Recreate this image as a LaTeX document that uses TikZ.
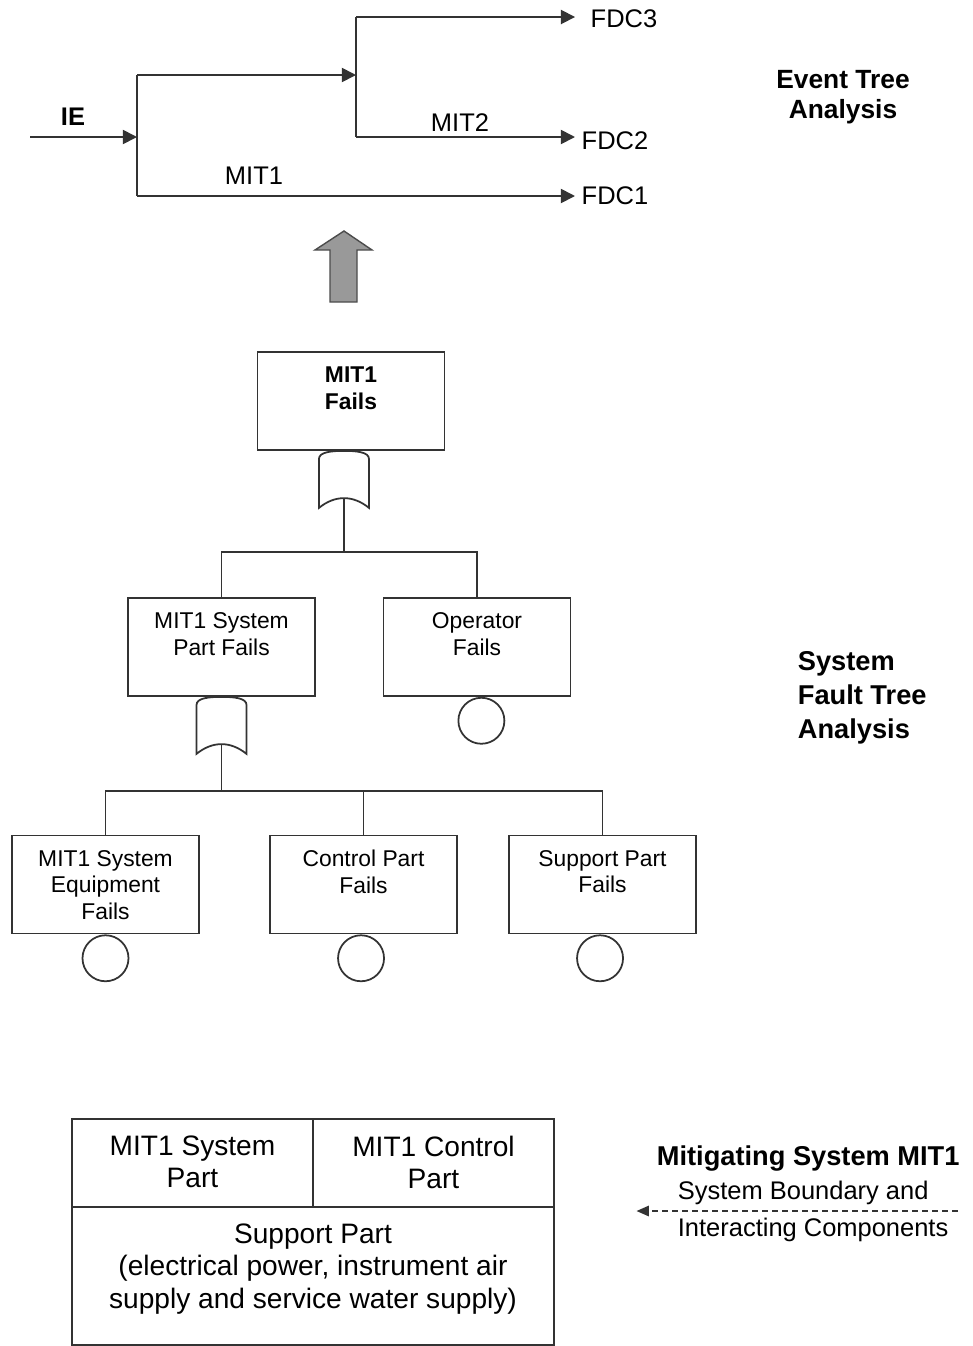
\documentclass[tikz,border=0pt]{standalone}
\usepackage{fontspec}
\setmainfont{Liberation Sans}
\usetikzlibrary{arrows.meta}
\begin{document}
\begin{tikzpicture}[x=0.02cm,y=-0.02cm,line width=1pt,
 ftbox/.style={draw=black!80,minimum width=187*\px,minimum height=98*\px},
 fttext/.style={anchor=north,yshift=-8.3pt,align=center,inner sep=0,font=\fontsize{13}{15.3}\selectfont},
 cell/.style={draw=black!80,minimum height=88*\px},
 celltext/.style={anchor=north,yshift=-9.6pt,align=center,inner sep=0,font=\fontsize{16}{18.4}\selectfont},
 basic/.style={circle,draw=black!80,minimum size=46*\px,inner sep=0,anchor=north},
 etline/.style={draw=black!80},
 etarrow/.style={etline,-{Triangle[length=8pt,width=8pt]}},
 etlabel/.style={font=\fontsize{14.5}{16}\selectfont},
 title/.style={font=\bfseries\fontsize{15}{17}\selectfont,align=center,inner sep=0},
 bndarrow/.style={draw=black!80,line width=0.7pt,dash pattern=on 3.4pt off 2.3pt,-{Triangle[length=7pt,width=6pt]}},
 orgate/.pic={\draw[black!80] (-25,57) -- (-25,8) .. controls (-25,1) and (-12,0) .. (0,0) .. controls (12,0) and (25,1) .. (25,8) -- (25,57) .. controls (9,44) and (-9,44) .. cycle;
  \coordinate (-out) at (0,47);}]
\def\px{0.02cm}
\def\ya{401}
\def\yb{647}
\def\yc{884.5}
\useasboundingbox (0,0) rectangle (973,1346);

\coordinate (ie) at (30,137);
\coordinate (b1) at (137,137);
\coordinate (b1u) at (137,75);
\coordinate (b1d) at (137,196);
\coordinate (b2) at (356,75);
\coordinate (b2u) at (356,17);
\coordinate (b2d) at (356,137);
\node[etlabel,font=\bfseries\fontsize{14.5}{16}\selectfont] (IE) at (73,117) {IE};
\node[etlabel] (MITa) at (254,176) {MIT1};
\node[etlabel] (MITb) at (460,123) {MIT2};
\node[etlabel,anchor=west] (FDC3) at (584,19) {FDC3};
\node[etlabel,anchor=west] (FDC2) at (575,141) {FDC2};
\node[etlabel,anchor=west] (FDC1) at (575,196) {FDC1};
\draw[etarrow] (ie) -- (b1);
\draw[etline] (b1u) -- (b1d);
\draw[etarrow] (b1u) -- (b2);
\draw[etline] (b2u) -- (b2d);
\draw[etarrow,shorten >=5.1pt] (b2u) -- (b2u -| FDC3.west);
\draw[etarrow] (b2d) -- (b2d -| FDC2.west);
\draw[etarrow] (b1d) -- (b1d -| FDC1.west);
\node[title] (ETA) at (843,97) {Event Tree\\Analysis};

\filldraw[fill=black!40,draw=black!70,line width=0.8pt] (330,302) -- (330,250) -- (315,250) -- (344,231) -- (372,250) -- (357,250) -- (357,302) -- cycle;

\node[ftbox] (Top) at (351,\ya) {};
\node[fttext,font=\bfseries\fontsize{13}{15.3}\selectfont] (Topt) at (Top.north) {MIT1\\Fails};
\pic (g1) at ([xshift=-4pt]Top.south) {orgate};

\node[ftbox] (SysPart) at (221.5,\yb) {};
\node[fttext] (SysPartt) at (SysPart.north) {MIT1 System\\Part Fails};
\node[ftbox] (Oper) at (477,\yb) {};
\node[fttext] (Opert) at (Oper.north) {Operator\\Fails};
\node[basic] (OperE) at ([xshift=2.5pt]Oper.south) {};
\draw[etline] (g1-out) -- ++(0,54) coordinate (j1);
\draw[etline] (SysPart.north) |- (j1) -| (Oper.north);
\pic (g2) at (SysPart.south) {orgate};

\node[ftbox] (Equip) at (105.5,\yc) {};
\node[fttext] (Equipt) at (Equip.north) {MIT1 System\\Equipment\\Fails};
\node[basic] (EquipE) at (Equip.south) {};
\node[ftbox] (Ctrl) at (363.5,\yc) {};
\node[fttext] (Ctrlt) at (Ctrl.north) {Control Part\\Fails};
\node[basic] (CtrlE) at ([xshift=-1.4pt]Ctrl.south) {};
\node[ftbox] (Supp) at (602.5,\yc) {};
\node[fttext] (Suppt) at (Supp.north) {Support Part\\Fails};
\node[basic] (SuppE) at ([xshift=-1.4pt]Supp.south) {};
\draw[etline] (g2-out) -- ++(0,47) coordinate (j2);
\draw[etline] (Equip.north) |- (j2) -| (Supp.north);
\draw[etline] (Ctrl.north) -- (Ctrl.north |- j2);
\node[title,align=left,anchor=west,font=\bfseries\fontsize{15.5}{19.3}\selectfont] (FTA) at (797,698) {System\\Fault Tree\\Analysis};

\node[cell,minimum width=241*\px] (SysCell) at (192.5,1163) {};
\node[celltext] (SysCellt) at (SysCell.north) {MIT1 System\\Part};
\node[cell,minimum width=241*\px] (CtlCell) at (433.5,1163) {};
\node[celltext] (CtlCellt) at (CtlCell.north) {MIT1 Control\\Part};
\node[cell,minimum width=482*\px,minimum height=138*\px] (SupCell) at (313,1276) {};
\node[celltext] (SupCellt) at (SupCell.north) {Support Part\\(electrical power, instrument air\\supply and service water supply)};

\node[anchor=west,inner sep=0,font=\bfseries\fontsize{15.5}{18}\selectfont] (MS) at (656,1159) {Mitigating System MIT1};
\node[anchor=west,inner sep=0,align=left,font=\fontsize{14.5}{21}\selectfont] (MSB) at (677,1211) {System Boundary and\\Interacting Components};
\coordinate (bnd) at (958,1211);
\draw[bndarrow,shorten >=46.5pt] (bnd) -- (bnd -| SupCell.east);
\end{tikzpicture}
\end{document}
